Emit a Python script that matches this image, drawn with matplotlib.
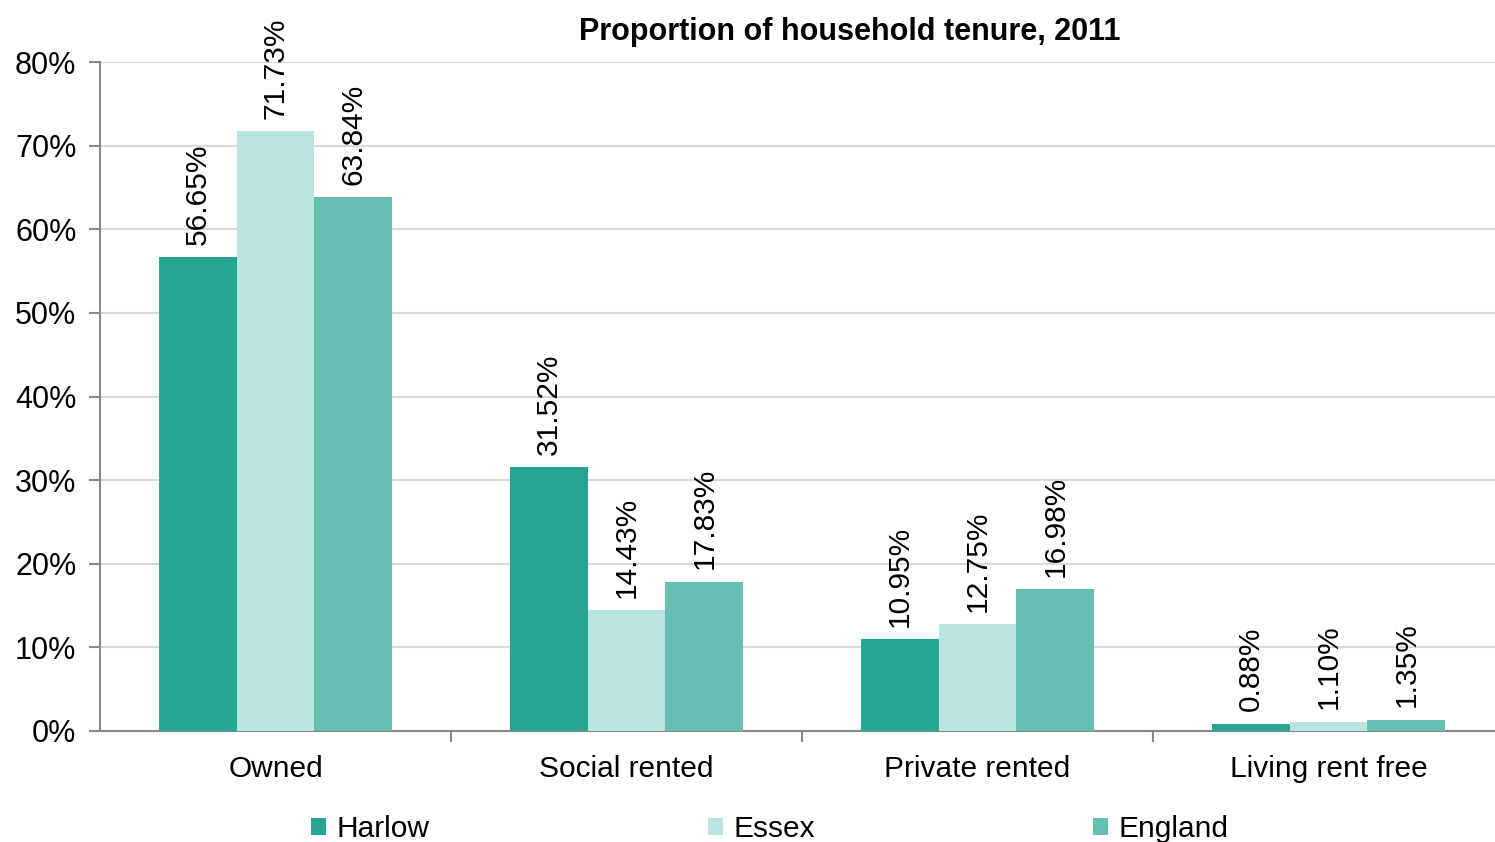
import numpy as np
import matplotlib
matplotlib.use("Agg")
import matplotlib.pyplot as plt
from matplotlib.patches import Patch
from matplotlib.ticker import FuncFormatter

categories = ["Owned", "Social rented", "Private rented", "Living rent free"]
series_names = ["Harlow", "Essex", "England"]
harlow = [56.65, 31.52, 10.95, 0.88]
essex = [71.73, 14.43, 12.75, 1.10]
england = [63.84, 17.83, 16.98, 1.35]
colors = ["#25A592", "#BAE4DF", "#66BFB2"]

plt.rcParams["font.family"] = ["Liberation Sans", "DejaVu Sans"]
FS = 21.5

fig = plt.figure(figsize=(14.95, 8.42), dpi=100)
ax = fig.add_axes([100 / 1495, (842 - 731) / 842, 1404 / 1495, 669 / 842])

x = np.arange(len(categories))
width = 0.222
for i, (vals, name) in enumerate(zip([harlow, essex, england], series_names)):
    bars = ax.bar(x + (i - 1) * width, vals, width, color=colors[i], label=name, zorder=3)
    for b, v in zip(bars, vals):
        ax.annotate(f"{v:.2f}%", (b.get_x() + b.get_width() / 2, v),
                    xytext=(0, 9), textcoords="offset points",
                    ha="center", va="bottom", rotation=90, fontsize=FS,
                    annotation_clip=False)

ax.set_xlim(-0.5, 3.5)
ax.set_ylim(0, 80)
ax.set_yticks(range(0, 81, 10))
ax.yaxis.set_major_formatter(FuncFormatter(lambda v, p: f"{v:.0f}%"))
ax.yaxis.grid(True, color="#D9D9D9", linewidth=1.5, zorder=0)

ax.set_xticks([0.5, 1.5, 2.5])
ax.set_xticklabels([])
ax.set_xticks(x, minor=True)
ax.set_xticklabels(categories, minor=True)
ax.tick_params(axis="x", which="minor", length=0, pad=17, labelsize=FS)
ax.tick_params(axis="x", which="major", length=8, color="#898989", width=1.5)
ax.tick_params(axis="y", length=8, color="#898989", width=1.5, pad=9, labelsize=22)

for s in ["top", "right"]:
    ax.spines[s].set_visible(False)
for s in ["left", "bottom"]:
    ax.spines[s].set_color("#898989")
    ax.spines[s].set_linewidth(1.5)

fig.text(850 / 1495, 1 - 32 / 842, "Proportion of household tenure, 2011",
         ha="center", va="center", fontsize=22, fontweight="bold")

handles = [Patch(facecolor=c, label=n) for c, n in zip(colors, series_names)]
fig.legend(handles=handles, loc="center", ncol=3, frameon=False,
           bbox_to_anchor=(0.515, (842 - 829) / 842), fontsize=FS,
           handlelength=0.5, handleheight=0.5, handletextpad=0.37,
           columnspacing=9.3, borderaxespad=0)

fig.savefig("out.png", dpi=100)
